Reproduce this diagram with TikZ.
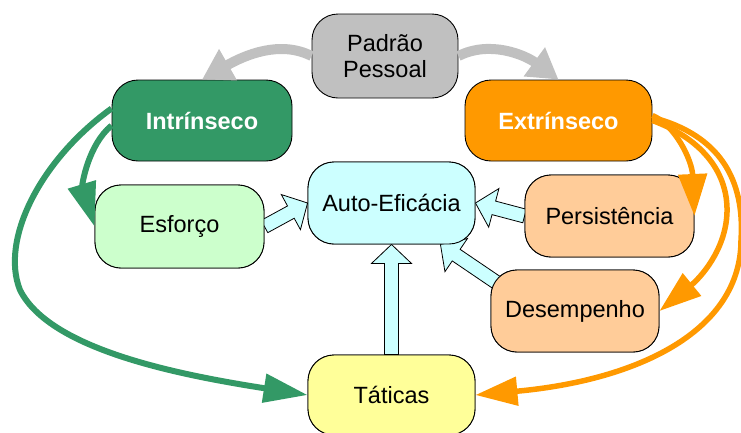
\documentclass[tikz,border=0pt]{standalone}
\usepackage{fontspec}
\setmainfont{Liberation Sans}
\usetikzlibrary{arrows.meta,calc}
\definecolor{grn}{HTML}{339966}
\definecolor{orng}{HTML}{FF9900}
\definecolor{gry}{HTML}{C0C0C0}
\definecolor{esfc}{HTML}{CCFFCC}
\definecolor{perc}{HTML}{FFCC99}
\definecolor{autoc}{HTML}{CCFFFF}
\definecolor{tatc}{HTML}{FFFF99}
\newcommand{\blockarr}[3]{%
  \coordinate (#3b) at ($(#2)!19pt!(#1)$);
  \draw[blockarrow] ($(#1)!7pt!90:(#2)$) -- ($(#3b)!7pt!90:(#2)$) -- ($(#3b)!20pt!90:(#2)$) -- (#2) -- ($(#3b)!20pt!-90:(#2)$) -- ($(#3b)!7pt!-90:(#2)$) -- ($(#1)!7pt!-90:(#2)$) -- cycle;}
\begin{document}
\begin{tikzpicture}[x=1pt,y=-1pt,
  box/.style={draw=black, line width=0.9pt, rounded corners=26pt, align=center, inner sep=0pt,
    font=\fontsize{23.5}{26}\selectfont},
  boldbox/.style={box, text=white, font=\fontsize{23.5}{26}\selectfont\bfseries},
  blockarrow/.style={fill=autoc, draw=black, line width=0.8pt, line join=miter},
  grnarrow/.style={draw=grn, line width=6pt, -{Triangle[length=44pt,width=28pt]}},
  orarrow/.style={draw=orng, line width=5.5pt, -{Triangle[length=42pt,width=28pt]}},
  gryarrow/.style={draw=gry, line width=10pt, -{Triangle[length=30pt,width=34pt]}}]
\useasboundingbox (0,0) rectangle (741,432);
\clip (0,0) rectangle (741,432);
% lower nodes
\path (391.5,203) node[box, fill=autoc, minimum width=167pt, minimum height=82pt] (auto) {Auto-Eficácia};
\path (179.5,226.5) node[box, fill=esfc, minimum width=169pt, minimum height=83pt] (esf) {Esforço};
\path (609.5,216) node[box, fill=perc, minimum width=169pt, minimum height=82pt] (pers) {Persistência};
\path (575,311) node[box, fill=perc, minimum width=168pt, minimum height=82pt] (desm) {Desempenho};
\path (391.5,395) node[box, fill=tatc, minimum width=167pt, minimum height=80pt] (tact) {Táticas};
% block arrows
\coordinate (d1) at ([xshift=9pt,yshift=-15pt]desm.north west);
\coordinate (d2) at ([xshift=-35pt]auto.south east);
\blockarr{tact.north}{auto.south}{ta}
\blockarr{esf.east}{auto.west}{ea}
\blockarr{pers.west}{auto.east}{pa}
\blockarr{d1}{d2}{da}
% redraw nodes on top of arrow bases
\path (391.5,203) node[box, fill=autoc, minimum width=167pt, minimum height=82pt] {Auto-Eficácia};
\path (179.5,226.5) node[box, fill=esfc, minimum width=169pt, minimum height=83pt] {Esforço};
\path (609.5,216) node[box, fill=perc, minimum width=169pt, minimum height=82pt] {Persistência};
\path (575,311) node[box, fill=perc, minimum width=168pt, minimum height=82pt] {Desempenho};
\path (391.5,395) node[box, fill=tatc, minimum width=167pt, minimum height=80pt] {Táticas};
% top row
\path (385,56) node[box, fill=gry, minimum width=146pt, minimum height=84pt] (pad) {Padrão\\Pessoal};
\path (202,120.5) node[boldbox, fill=grn, minimum width=180pt, minimum height=81pt] (intr) {Intrínseco};
\path (558.5,120.5) node[boldbox, fill=orng, minimum width=187pt, minimum height=81pt] (extr) {Extrínseco};
% gray arrows
\draw[gryarrow] (pad.west) .. controls (280,40) and (245,55) .. (intr.north);
\draw[gryarrow] (pad.east) .. controls (490,40) and (525,55) .. (extr.north);
% green arrows
\draw[grnarrow] ([yshift=-5pt]intr.west) .. controls (88,145) and (82,185) .. (esf.west);
\draw[grnarrow] ([yshift=12pt]intr.west) .. controls (40,160) and (0,240) .. (20,290)
   .. controls (50,350) and (180,375) .. (tact.west);
% orange arrows
\draw[orarrow] ([yshift=5pt]extr.east) .. controls (675,125) and (692,160) .. (pers.east);
\draw[orarrow] (extr.east) .. controls (705,140) and (728,175) .. (727,212)
   .. controls (726,250) and (700,278) .. (desm.east);
\draw[orarrow] ([yshift=3pt]extr.east) .. controls (720,135) and (745,180) .. (741,240)
   .. controls (741,330) and (640,380) .. (tact.east);
\end{tikzpicture}
\end{document}
